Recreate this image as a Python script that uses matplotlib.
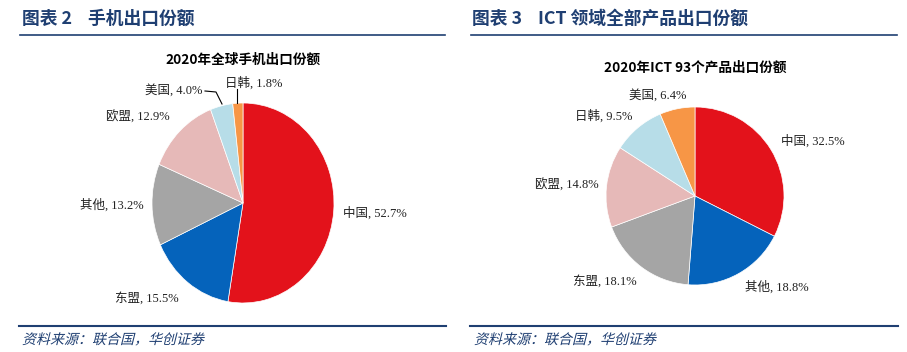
import matplotlib.pyplot as plt
from matplotlib.lines import Line2D
from matplotlib.textpath import TextPath
from matplotlib.patches import PathPatch
from matplotlib.font_manager import FontProperties
from matplotlib.transforms import Affine2D

# 图表 2 数据
phone_labels = ['中国', '东盟', '其他', '欧盟', '美国', '日韩']
phone_share = [52.7, 15.5, 13.2, 12.9, 4.0, 1.8]
phone_colors = ['#E3121B', '#0563BB', '#A5A5A5', '#E6B9B8', '#B7DDE8', '#F79646']

# 图表 3 数据
ict_labels = ['中国', '其他', '东盟', '欧盟', '日韩', '美国']
ict_share = [32.5, 18.8, 18.1, 14.8, 9.5, 6.4]
ict_colors = ['#E3121B', '#0563BB', '#A5A5A5', '#E6B9B8', '#B7DDE8', '#F79646']

W, H = 907, 352
navy = '#1F3F72'
cjk_bold = ['Noto Sans CJK SC']
label_font = ['Liberation Serif', 'Noto Sans CJK SC']

fig = plt.figure(figsize=(W / 100, H / 100), dpi=100)


def px(x, y):
    return x / W, 1 - y / H


def pie_axes(cx, cy, rx, ry):
    return fig.add_axes([(cx - rx) / W, 1 - (cy + ry) / H, 2 * rx / W, 2 * ry / H])


def draw_pie(ax, vals, colors):
    ax.pie(vals, colors=colors, startangle=90, counterclock=False,
           wedgeprops={'edgecolor': 'white', 'linewidth': 0.5})
    ax.set_aspect('auto')
    ax.set_xlim(-1, 1)
    ax.set_ylim(-1, 1)
    ax.axis('off')


ax1 = pie_axes(243, 203, 91, 100)
draw_pie(ax1, phone_share, phone_colors)
ax2 = pie_axes(695, 196, 89, 89)
draw_pie(ax2, ict_share, ict_colors)

# 标签位置（像素，左侧起点）
phone_pos = [(343, 213), (115, 298), (80, 205), (106, 117), (145, 90), (225, 83)]
ict_pos = [(781, 141), (745, 287), (573, 281), (535, 185), (575, 116), (629, 95)]

for (lab, v), (x, y) in zip(zip(phone_labels, phone_share), phone_pos):
    fig.text(*px(x, y), f'{lab}, {v:.1f}%', family=label_font, fontsize=9,
             ha='left', va='center', color='#222222')
for (lab, v), (x, y) in zip(zip(ict_labels, ict_share), ict_pos):
    fig.text(*px(x, y), f'{lab}, {v:.1f}%', family=label_font, fontsize=9,
             ha='left', va='center', color='#222222')

# 引导线
for xs, ys in [([205, 216, 222], [91, 92, 104]), ([237, 237], [89, 103])]:
    fig.add_artist(Line2D([x / W for x in xs], [1 - y / H for y in ys],
                          color='black', linewidth=0.8))

# 图内标题
fig.text(*px(243, 60), '2020年全球手机出口份额', family=cjk_bold, fontsize=9.8,
         fontweight='bold', ha='center', va='center', color='black')
fig.text(*px(695, 68), '2020年ICT 93个产品出口份额', family=cjk_bold, fontsize=9.8,
         fontweight='bold', ha='center', va='center', color='black')

# 页眉
fig.text(*px(22, 19), '图表 2    手机出口份额', family=cjk_bold, fontsize=12.8,
         fontweight='bold', ha='left', va='center', color=navy)
fig.text(*px(472, 19), '图表 3    ICT 领域全部产品出口份额', family=cjk_bold, fontsize=12.8,
         fontweight='bold', ha='left', va='center', color=navy)

for x0, x1 in [(20, 445), (471, 897)]:
    fig.add_artist(Line2D([x0 / W, x1 / W], [1 - 35 / H] * 2, color=navy, linewidth=1.2))
    fig.add_artist(Line2D([(x0 - 1) / W, (x1 + 1) / W], [1 - 326 / H] * 2, color=navy, linewidth=1.5))

# 资料来源（斜体效果）
src = '资料来源：联合国，华创证券'
src_path = TextPath((0, 0), src, size=14, prop=FontProperties(family='Noto Sans CJK SC', weight='light'))
for x0 in [22, 474]:
    fig.add_artist(PathPatch(src_path, transform=Affine2D().skew_deg(14, 0).translate(x0, H - 344),
                             facecolor=navy, edgecolor='none'))

fig.savefig('out.png', dpi=100, facecolor='white')
